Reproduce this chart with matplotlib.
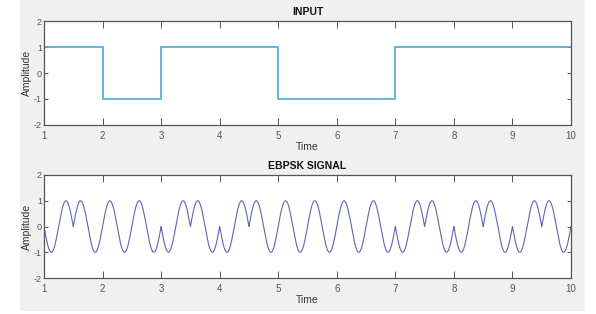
import numpy as np
import matplotlib
matplotlib.use("Agg")
import matplotlib.pyplot as plt
from matplotlib.patches import Rectangle

# ---- data ----
bit_times = [1, 2, 3, 4, 5, 6, 7, 8, 9]
bits = [1, 0, 1, 1, 0, 0, 1, 1, 1]
input_levels = [1, -1, 1, 1, -1, -1, 1, 1, 1]
carrier_freq = 2.0          # cycles per unit time
xticks = [1, 2, 3, 4, 5, 6, 7, 8, 9, 10]
yticks = [-2, -1, 0, 1, 2]

# EBPSK modulation: phase inverted in first half of each '1' bit
t = np.linspace(1, 10, 9001)
idx = np.clip(np.floor(t - 1).astype(int), 0, len(bits) - 1)
frac = (t - 1) - np.floor(t - 1)
bits_arr = np.array(bits)
m = np.where((bits_arr[idx] == 1) & (frac < 0.5), -1.0, 1.0)
sig = m * np.sin(2 * np.pi * carrier_freq * (t - 1))

font = ['Liberation Sans Narrow', 'Liberation Sans', 'DejaVu Sans']
plt.rcParams['font.family'] = font
plt.rcParams['axes.unicode_minus'] = False

W, H = 596, 314
fig = plt.figure(figsize=(W / 100, H / 100), dpi=100, facecolor='white')
fig.patches.append(Rectangle((20 / W, 1 - 311 / H), (585 - 20) / W, 311 / H,
                             transform=fig.transFigure, facecolor='#f0f0f0',
                             edgecolor='none', zorder=-10))

def style(ax, title):
    ax.set_xlim(1, 10)
    ax.set_ylim(-2, 2)
    ax.set_xticks(xticks)
    ax.set_yticks(yticks)
    ax.set_facecolor('white')
    for s in ax.spines.values():
        s.set_color('#555555')
        s.set_linewidth(0.9)
    ax.tick_params(axis='x', direction='in', length=5, width=0.7, colors='#555555',
                   labelcolor='#555555', labelsize=7, top=True, pad=4)
    ax.tick_params(axis='y', direction='in', length=3, width=0.7, colors='#555555',
                   labelcolor='#555555', labelsize=6.5, right=True, pad=1.5)
    ax.set_title(title, fontsize=7.5, fontweight='bold', pad=4, color='#111111')
    ax.set_xlabel('Time', fontsize=7.5, color='#333333', labelpad=1)
    ax.set_ylabel('Amplitude', fontsize=7.5, color='#333333', labelpad=1)
    ax.yaxis.set_label_coords(-12 / 527, 0.5)

ax1 = fig.add_axes([44 / W, 1 - 125 / H, (571 - 44) / W, (125 - 21) / H])
ax1.step(bit_times + [10], input_levels + [input_levels[-1]], where='post',
         color='#4aa8d8', lw=1.2)
style(ax1, 'INPUT')

ax2 = fig.add_axes([44 / W, 1 - 278 / H, (571 - 44) / W, (278 - 175) / H])
ax2.plot(t, sig, color='#6262b8', lw=0.8)
style(ax2, 'EBPSK SIGNAL')

fig.savefig('out.png', dpi=100, facecolor='white')
